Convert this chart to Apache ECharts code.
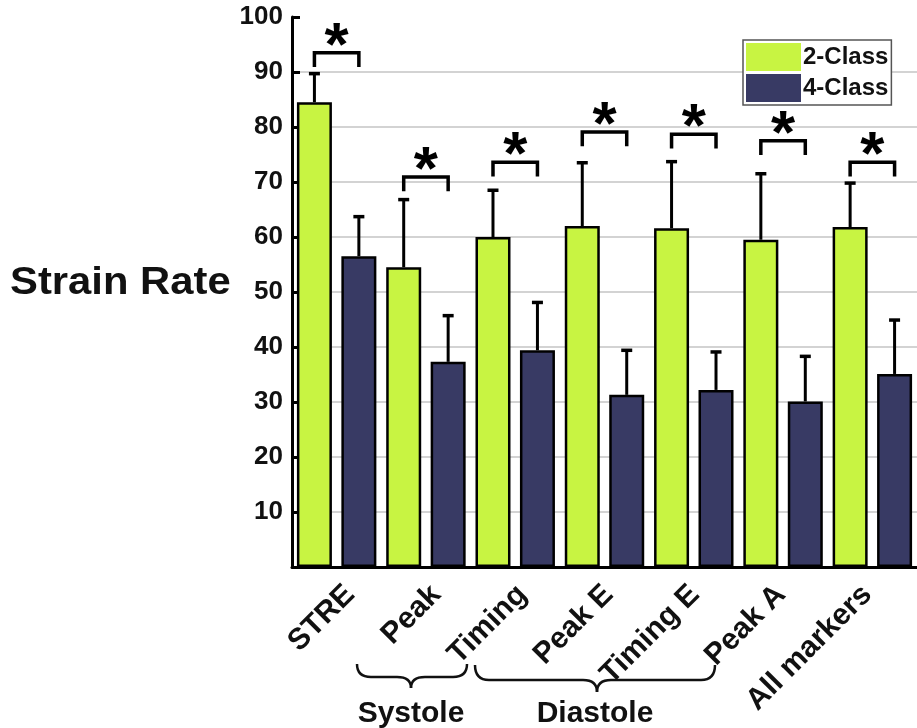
<!DOCTYPE html>
<html><head><meta charset="utf-8">
<script src="https://cdn.jsdelivr.net/npm/echarts@6/dist/echarts.min.js"></script>
<style>html,body{margin:0;padding:0;background:#fff}#c{width:917px;height:728px}</style>
</head><body><div id="c"></div>
<script>
// ---- data ----
const categories = ['STRE', 'Peak', 'Timing', 'Peak E', 'Timing E', 'Peak A', 'All markers'];
const class2 = [84.5, 54.5, 60.0, 62.0, 61.6, 59.5, 61.8];
const class2Err = [89.7, 66.8, 68.5, 73.5, 73.7, 71.5, 69.8];
const class4 = [56.5, 37.3, 39.4, 31.3, 32.2, 30.1, 35.1];
const class4Err = [63.7, 45.7, 48.1, 39.4, 39.1, 38.3, 44.9];
const bracketTop = [93.5, 70.9, 73.6, 79.1, 78.7, 77.5, 73.6];
const seriesNames = ['2-Class', '4-Class'];
const groupNames = ['Systole', 'Diastole'];

// ---- style / layout ----
const FONT = '"Liberation Sans", Arial, Helvetica, sans-serif';
const GREEN = '#c8f442', NAVY = '#383a64';
const BAR_W = 35, BAR_GAP = 0.27;
const HALF = BAR_W * (1 + BAR_GAP) / 2;
const CAP = 11, LEG = 2.6;

function errRender(sign) {
  return function (params, api) {
    const i = api.value(0);
    const p0 = api.coord([i, api.value(1)]);
    const p1 = api.coord([i, api.value(2)]);
    const x = p0[0] + sign * HALF;
    return {
      type: 'group', children: [
        { type: 'line', shape: { x1: x, y1: p0[1], x2: x, y2: p1[1] }, style: { stroke: '#000', lineWidth: 3 } },
        { type: 'line', shape: { x1: x - CAP / 2, y1: p1[1], x2: x + CAP / 2, y2: p1[1] }, style: { stroke: '#000', lineWidth: 3.5 } }
      ]
    };
  };
}
function bracketRender(params, api) {
  const i = api.value(0);
  const t = api.coord([i, api.value(1)]);
  const l = api.coord([i, api.value(1) - LEG]);
  const xl = t[0] - HALF, xr = t[0] + HALF;
  return {
    type: 'group', children: [
      { type: 'polyline', shape: { points: [[xl, l[1]], [xl, t[1]], [xr, t[1]], [xr, l[1]]] },
        style: { stroke: '#000', lineWidth: 3.5, fill: 'none' } },
      { type: 'text', x: t[0], y: t[1] - 5,
        style: { text: '*', fill: '#000', font: 'bold 62px ' + FONT, align: 'center', verticalAlign: 'middle', textAlign: 'center', textVerticalAlign: 'middle' } }
    ]
  };
}
function brace(x1, x2, xm, yTop, yMid, yTip) {
  const r = 14, st = { stroke: '#111', lineWidth: 2.5, fill: 'none' };
  return [
    { type: 'bezierCurve', shape: { x1: x1, y1: yTop, x2: x1 + r, y2: yMid, cpx1: x1, cpy1: yMid }, style: st },
    { type: 'line', shape: { x1: x1 + r, y1: yMid, x2: xm - r, y2: yMid }, style: st },
    { type: 'bezierCurve', shape: { x1: xm - r, y1: yMid, x2: xm, y2: yTip, cpx1: xm, cpy1: yMid }, style: st },
    { type: 'bezierCurve', shape: { x1: xm, y1: yTip, x2: xm + r, y2: yMid, cpx1: xm, cpy1: yMid }, style: st },
    { type: 'line', shape: { x1: xm + r, y1: yMid, x2: x2 - r, y2: yMid }, style: st },
    { type: 'bezierCurve', shape: { x1: x2 - r, y1: yMid, x2: x2, y2: yTop, cpx1: x2, cpy1: yMid }, style: st }
  ];
}

const graphics = [];
graphics.push({ type: 'text', x: 10, y: 284, scaleX: 1.1,
  style: { text: 'Strain Rate', font: 'bold 38px ' + FONT, fill: '#111', align: 'left', verticalAlign: 'middle' } });
categories.forEach(function (c, i) {
  graphics.push({ type: 'text', x: 350 + 86.2 * i, y: 590, rotation: Math.PI / 4,
    style: { text: c, font: 'bold 30px ' + FONT, fill: '#111', align: 'right', verticalAlign: 'middle' } });
});
brace(357, 467, 411, 664, 677, 688).forEach(function (g) { graphics.push(g); });
brace(475, 715, 597, 665, 680, 692).forEach(function (g) { graphics.push(g); });
graphics.push({ type: 'text', x: 411, y: 714, style: { text: groupNames[0], font: 'bold 30px ' + FONT, fill: '#111', align: 'center', verticalAlign: 'middle' } });
graphics.push({ type: 'text', x: 595, y: 714, style: { text: groupNames[1], font: 'bold 30px ' + FONT, fill: '#111', align: 'center', verticalAlign: 'middle' } });

const chart = echarts.init(document.getElementById('c'), null, { renderer: 'canvas' });
chart.setOption({
  animation: false,
  backgroundColor: '#fff',
  grid: { left: 292, right: -2, top: 17, bottom: 161, containLabel: false },
  legend: {
    data: seriesNames, orient: 'vertical', left: 743, top: 40,
    itemWidth: 55, itemHeight: 28, itemGap: 3, padding: [3, 3, 3, 3],
    borderColor: '#555', borderWidth: 1.5, backgroundColor: '#fff',
    icon: 'rect', itemStyle: { borderWidth: 0 },
    textStyle: { fontFamily: FONT, fontWeight: 'bold', fontSize: 24, color: '#111', padding: [0, 0, 0, -3] }
  },
  xAxis: {
    type: 'category', data: categories,
    axisLine: { lineStyle: { color: '#000', width: 3 } },
    axisTick: { show: false }, axisLabel: { show: false }, splitLine: { show: false }
  },
  yAxis: {
    type: 'value', min: 0, max: 100, interval: 10,
    axisLine: { show: true, lineStyle: { color: '#000', width: 3 } },
    axisTick: { show: true, inside: true, length: 8, lineStyle: { color: '#000', width: 3 } },
    axisLabel: { fontFamily: FONT, fontWeight: 'bold', fontSize: 26, color: '#111', margin: 9,
      formatter: function (v) { return v === 0 ? '' : String(v); } },
    splitLine: { show: true, showMaxLine: false, showMinLine: false, lineStyle: { color: '#d3d3d3', width: 2 } }
  },
  series: [
    { name: seriesNames[0], type: 'bar', data: class2, barWidth: BAR_W, barGap: (BAR_GAP * 100) + '%',
      itemStyle: { color: GREEN, borderColor: '#000', borderWidth: 2.5 }, z: 2 },
    { name: seriesNames[1], type: 'bar', data: class4, barWidth: BAR_W, barGap: (BAR_GAP * 100) + '%',
      itemStyle: { color: NAVY, borderColor: '#000', borderWidth: 2.5 }, z: 2 },
    { type: 'custom', renderItem: errRender(-1), z: 3, silent: true,
      data: categories.map(function (c, i) { return [i, class2[i], class2Err[i]]; }) },
    { type: 'custom', renderItem: errRender(1), z: 3, silent: true,
      data: categories.map(function (c, i) { return [i, class4[i], class4Err[i]]; }) },
    { type: 'custom', renderItem: bracketRender, z: 3, silent: true,
      data: categories.map(function (c, i) { return [i, bracketTop[i]]; }) }
  ],
  graphic: graphics
});
</script>
</body></html>
